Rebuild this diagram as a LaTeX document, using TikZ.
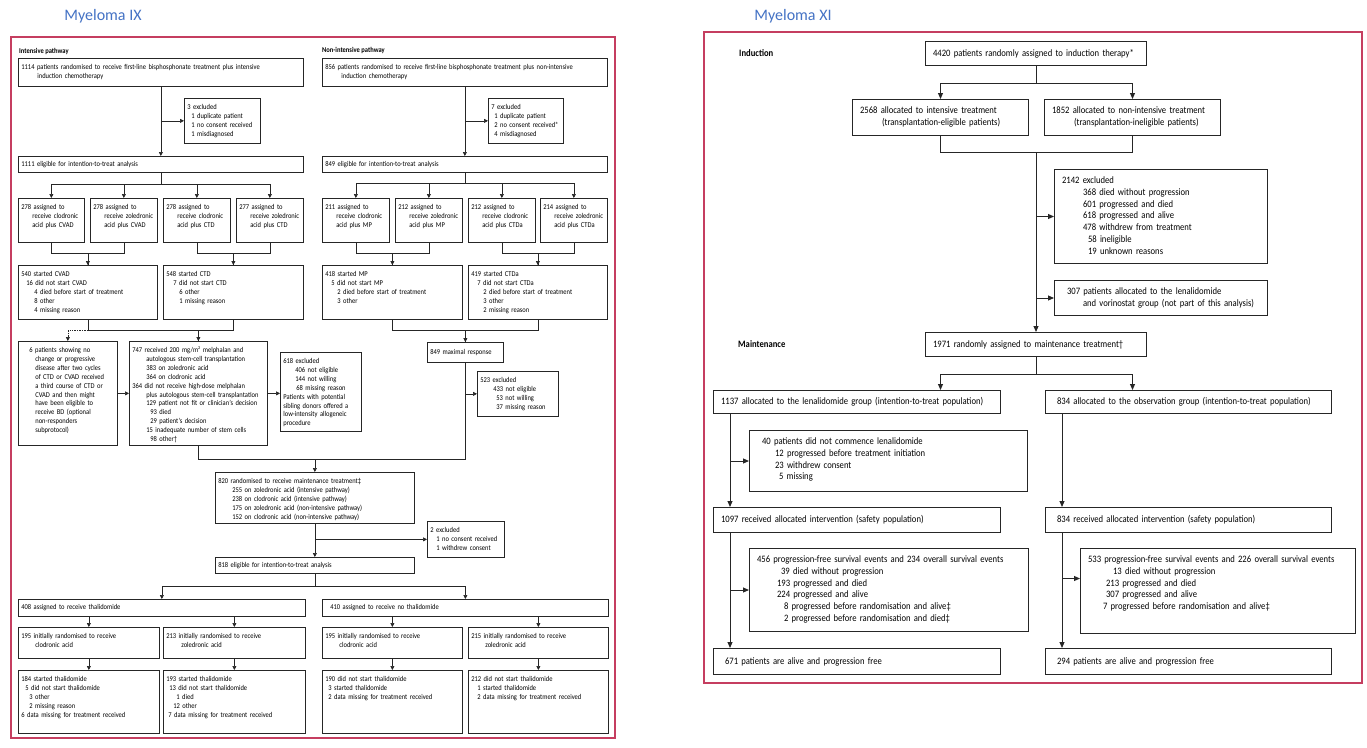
\documentclass[tikz,border=0pt]{standalone}
\usepackage{fontspec}
\setmainfont{Carlito}
\newfontfamily\boxfont[FakeStretch=0.88]{Carlito}
\usetikzlibrary{arrows.meta}
\definecolor{framered}{RGB}{197,62,96}
\definecolor{titleblue}{RGB}{68,114,196}
\newcommand{\shiftin}[1]{\hspace*{#1pt}}
\hyphenpenalty=10000
\exhyphenpenalty=10000

\begin{document}
\begin{tikzpicture}[x=1pt, y=-1pt,
    lbox/.style={rectangle, draw=black!85, line width=0.7pt, anchor=north west, align=left, inner xsep=3pt, inner ysep=3.5pt, font={\boxfont\fontsize{7.4}{8.85}\selectfont}},
    ltall/.style={lbox, text height=8pt},
    lnarrow/.style={ltall, inner xsep=2pt},
    rbox/.style={rectangle, draw=black!85, line width=1pt, anchor=north west, align=left, inner xsep=7.5pt, inner ysep=5pt, font={\boxfont\fontsize{9.8}{11.8}\selectfont}},
    rtall/.style={rbox, text height=9pt},
    arr/.style={draw=black!85, line width=0.7pt, -{Triangle[length=4pt, width=4pt]}},
    line/.style={draw=black!85, line width=0.7pt},
    rarr/.style={draw=black!85, line width=1pt, -{Triangle[length=6pt, width=5pt]}},
    rline/.style={draw=black!85, line width=1pt},
    frame/.style={draw=framered, line width=1.2pt},
    title/.style={text=titleblue, font={\fontsize{16}{19}\selectfont}},
    llab/.style={anchor=west, inner sep=0pt, font={\boxfont\bfseries\fontsize{7.4}{9}\selectfont}},
    rlab/.style={anchor=west, inner sep=0pt, font={\boxfont\bfseries\fontsize{9.8}{12}\selectfont}}]
    \useasboundingbox (0,0) rectangle (1367,747);

    % Titles and frames
    \node [title] (titleix) at (103,16) {Myeloma IX};
    \node [title] (titlexi) at (793,16) {Myeloma XI};
    \draw [frame] (11,37) rectangle (615,738);
    \draw [frame] (704,32) rectangle (1362,683);

    % Myeloma IX: intensive pathway
    \node [llab] (labint) at (19,51) {Intensive pathway};
    \node [ltall, text width=279pt, text depth=13pt] (intrand) at (18,58) {1114 patients randomised to receive first-line bisphosphonate treatment plus intensive\\\shiftin{16}induction chemotherapy};
    \node [lnarrow, text width=72pt, text depth=30pt] (intexcl) at (184,98) {\shiftin{1}3 excluded\\\shiftin{5}1 duplicate patient\\\shiftin{5}1 no consent received\\\shiftin{5}1 misdiagnosed};
    \node [lbox, text width=279pt, minimum height=16pt] (intitt) at (18,156) {1111 eligible for intention-to-treat analysis};
    \node [lnarrow, text width=62pt, text depth=29pt] (intcvadclo) at (18,198) {\shiftin{1}278 assigned to\\\shiftin{12}receive clodronic\\\shiftin{12}acid plus CVAD};
    \node [lnarrow, text width=63pt, text depth=29pt] (intcvadzol) at (90,198) {\shiftin{1}278 assigned to\\\shiftin{12}receive zoledronic\\\shiftin{12}acid plus CVAD};
    \node [lnarrow, text width=63pt, text depth=29pt] (intctdclo) at (163,198) {\shiftin{1}278 assigned to\\\shiftin{12}receive clodronic\\\shiftin{12}acid plus CTD};
    \node [lnarrow, text width=63pt, text depth=29pt] (intctdzol) at (236,198) {\shiftin{1}277 assigned to\\\shiftin{12}receive zoledronic\\\shiftin{12}acid plus CTD};
    \node [ltall, text width=133pt, text depth=39pt] (cvad) at (18,265) {540 started CVAD\\\shiftin{5}16 did not start CVAD\\\shiftin{13}4 died before start of treatment\\\shiftin{13}8 other\\\shiftin{13}4 missing reason};
    \node [ltall, text width=134pt, text depth=39pt] (ctd) at (163,265) {548 started CTD\\\shiftin{7}7 did not start CTD\\\shiftin{13}6 other\\\shiftin{13}1 missing reason};
    \node [ltall, text width=93pt, text depth=89pt] (noresp) at (18,341) {\shiftin{8}6 patients showing no\\\shiftin{14}change or progressive\\\shiftin{14}disease after two cycles\\\shiftin{14}of CTD or CVAD received\\\shiftin{14}a third course of CTD or\\\shiftin{14}CVAD and then might\\\shiftin{14}have been eligible to\\\shiftin{14}receive BD (optional\\\shiftin{14}non-responders\\\shiftin{14}subprotocol)};
    \node [ltall, text width=132pt, text depth=89pt] (asct) at (129,341) {747 received 200 mg/m² melphalan and\\\shiftin{14}autologous stem-cell transplantation\\\shiftin{14}383 on zoledronic acid\\\shiftin{14}364 on clodronic acid\\364 did not receive high-dose melphalan\\\shiftin{14}plus autologous stem-cell transplantation\\\shiftin{14}129 patient not fit or clinician’s decision\\\shiftin{18}93 died\\\shiftin{18}29 patient’s decision\\\shiftin{14}15 inadequate number of stem cells\\\shiftin{18}98 other†};
    \node [ltall, text width=75pt, text depth=64pt] (alloexcl) at (280,352) {618 excluded\\\shiftin{12}406 not eligible\\\shiftin{12}144 not willing\\\shiftin{13}68 missing reason\\Patients with potential\\sibling donors offered a\\low-intensity allogeneic\\procedure};

    % Myeloma IX: non-intensive pathway
    \node [llab] (labnon) at (322,50) {Non-intensive pathway};
    \node [ltall, text width=279pt, text depth=13pt] (nonrand) at (322,58) {856 patients randomised to receive first-line bisphosphonate treatment plus non-intensive\\\shiftin{16}induction chemotherapy};
    \node [lnarrow, text width=71pt, text depth=30pt] (nonexcl) at (488,98) {\shiftin{1}7 excluded\\\shiftin{4}1 duplicate patient\\\shiftin{4}2 no consent received*\\\shiftin{4}4 misdiagnosed};
    \node [lbox, text width=279pt, minimum height=16pt] (nonitt) at (322,156) {849 eligible for intention-to-treat analysis};
    \node [lnarrow, text width=63pt, text depth=29pt] (mpclo) at (322,198) {\shiftin{1}211 assigned to\\\shiftin{12}receive clodronic\\\shiftin{12}acid plus MP};
    \node [lnarrow, text width=63pt, text depth=29pt] (mpzol) at (395,198) {\shiftin{1}212 assigned to\\\shiftin{12}receive zoledronic\\\shiftin{12}acid plus MP};
    \node [lnarrow, text width=63pt, text depth=29pt] (ctdaclo) at (468,198) {\shiftin{1}212 assigned to\\\shiftin{12}receive clodronic\\\shiftin{12}acid plus CTDa};
    \node [lnarrow, text width=63pt, text depth=29pt] (ctdazol) at (540,198) {\shiftin{1}214 assigned to\\\shiftin{12}receive zoledronic\\\shiftin{12}acid plus CTDa};
    \node [ltall, text width=134pt, text depth=39pt] (mp) at (322,265) {418 started MP\\\shiftin{6}5 did not start MP\\\shiftin{12}2 died before start of treatment\\\shiftin{12}3 other};
    \node [ltall, text width=133pt, text depth=39pt] (ctda) at (468,265) {419 started CTDa\\\shiftin{6}7 did not start CTDa\\\shiftin{12}2 died before start of treatment\\\shiftin{12}3 other\\\shiftin{12}2 missing reason};
    \node [lbox, text width=70pt, minimum height=20pt] (maxresp) at (427,342) {849 maximal response};
    \node [ltall, text width=75pt, text depth=30pt] (maxexcl) at (477,371) {523 excluded\\\shiftin{13}433 not eligible\\\shiftin{16}53 not willing\\\shiftin{16}37 missing reason};

    % Myeloma IX: maintenance
    \node [ltall, text width=193pt, text depth=36pt] (maintrand) at (215,472) {820 randomised to receive maintenance treatment‡\\\shiftin{14}255 on zoledronic acid (intensive pathway)\\\shiftin{14}238 on clodronic acid (intensive pathway)\\\shiftin{14}175 on zoledronic acid (non-intensive pathway)\\\shiftin{14}152 on clodronic acid (non-intensive pathway)};
    \node [ltall, text width=71pt, text depth=21pt] (maintexcl) at (427,521) {2 excluded\\\shiftin{6}1 no consent received\\\shiftin{6}1 withdrew consent};
    \node [lbox, text width=193pt, minimum height=16pt] (maintitt) at (215,557) {818 eligible for intention-to-treat analysis};
    \node [lbox, text width=281pt, minimum height=17pt] (thal) at (18,599) {408 assigned to receive thalidomide};
    \node [lbox, text width=280pt, minimum height=17pt] (nothal) at (322,599) {\shiftin{5}410 assigned to receive no thalidomide};
    \node [ltall, text width=135pt, text depth=16pt] (thalclo) at (18,627) {195 initially randomised to receive\\\shiftin{14}clodronic acid};
    \node [ltall, text width=136pt, text depth=16pt] (thalzol) at (163,627) {213 initially randomised to receive\\\shiftin{15}zoledronic acid};
    \node [ltall, text width=134pt, text depth=16pt] (nothalclo) at (322,627) {195 initially randomised to receive\\\shiftin{14}clodronic acid};
    \node [ltall, text width=134pt, text depth=16pt] (nothalzol) at (468,627) {215 initially randomised to receive\\\shiftin{14}zoledronic acid};
    \node [ltall, text width=135pt, text depth=48pt] (thalcloout) at (18,670) {184 started thalidomide\\\shiftin{4}5 did not start thalidomide\\\shiftin{8}3 other\\\shiftin{8}2 missing reason\\6 data missing for treatment received};
    \node [ltall, text width=136pt, text depth=48pt] (thalzolout) at (163,670) {193 started thalidomide\\\shiftin{3}13 did not start thalidomide\\\shiftin{10}1 died\\\shiftin{7}12 other\\\shiftin{2}7 data missing for treatment received};
    \node [ltall, text width=134pt, text depth=48pt] (nothalcloout) at (322,670) {190 did not start thalidomide\\\shiftin{3}3 started thalidomide\\\shiftin{3}2 data missing for treatment received};
    \node [ltall, text width=134pt, text depth=48pt] (nothalzolout) at (468,670) {212 did not start thalidomide\\\shiftin{6}1 started thalidomide\\\shiftin{6}2 data missing for treatment received};

    % Myeloma XI: induction
    \node [rlab] (labind) at (739,53) {Induction};
    \node [rbox, text width=206pt, minimum height=24pt] (induct) at (925,41) {4420 patients randomly assigned to induction therapy*};
    \node [rtall, text width=161pt, text depth=17pt] (intensive) at (852,99) {2568 allocated to intensive treatment\\\shiftin{22}(transplantation-eligible patients)};
    \node [rtall, text width=161pt, text depth=17pt] (nonintensive) at (1044,99) {1852 allocated to non-intensive treatment\\\shiftin{22}(transplantation-ineligible patients)};
    \node [rtall, text width=198pt, text depth=75pt] (indexcl) at (1054,169) {2142 excluded\\\shiftin{21}368 died without progression\\\shiftin{21}601 progressed and died\\\shiftin{21}618 progressed and alive\\\shiftin{21}478 withdrew from treatment\\\shiftin{26}58 ineligible\\\shiftin{26}19 unknown reasons};
    \node [rtall, text width=198pt, text depth=16pt] (vorino) at (1054,280) {\shiftin{5}307 patients allocated to the lenalidomide\\\shiftin{21}and vorinostat group (not part of this analysis)};

    % Myeloma XI: maintenance
    \node [rlab] (labmaint) at (738,344) {Maintenance};
    \node [rbox, text width=206pt, minimum height=24pt] (mainrand) at (925,332) {1971 randomly assigned to maintenance treatment†};
    \node [rbox, text width=272pt, minimum height=23pt] (lenal) at (713,390) {1137 allocated to the lenalidomide group (intention-to-treat population)};
    \node [rbox, text width=271pt, minimum height=23pt] (observ) at (1045,390) {\shiftin{4}834 allocated to the observation group (intention-to-treat population)};
    \node [rtall, text width=263pt, text depth=42pt] (lenalno) at (749,430) {\shiftin{5}40 patients did not commence lenalidomide\\\shiftin{18}12 progressed before treatment initiation\\\shiftin{18}23 withdrew consent\\\shiftin{22}5 missing};
    \node [rbox, text width=272pt, minimum height=25pt] (lenalsafe) at (713,507) {1097 received allocated intervention (safety population)};
    \node [rbox, text width=271pt, minimum height=25pt] (observsafe) at (1045,507) {\shiftin{4}834 received allocated intervention (safety population)};
    \node [rtall, text width=264pt, text depth=64pt] (lenalevents) at (749,548) {456 progression-free survival events and 234 overall survival events\\\shiftin{24}39 died without progression\\\shiftin{20}193 progressed and died\\\shiftin{20}224 progressed and alive\\\shiftin{27}8 progressed before randomisation and alive‡\\\shiftin{27}2 progressed before randomisation and died‡};
    \node [rtall, text width=260pt, text depth=66pt] (observevents) at (1080,548) {533 progression-free survival events and 226 overall survival events\\\shiftin{25}13 died without progression\\\shiftin{18}213 progressed and died\\\shiftin{18}307 progressed and alive\\\shiftin{15}7 progressed before randomisation and alive‡};
    \node [rbox, text width=272pt, minimum height=26pt] (lenalfree) at (713,648) {\shiftin{4}671 patients are alive and progression free};
    \node [rbox, text width=271pt, minimum height=26pt] (observfree) at (1045,648) {\shiftin{4}294 patients are alive and progression free};

    % Trunk points
    \coordinate (lenaltrunk) at ([xshift=17pt]lenal.south west);
    \coordinate (lenalsafetrunk) at ([xshift=17pt]lenalsafe.south west);
    \coordinate (observtrunk) at ([xshift=17pt]observ.south west);
    \coordinate (observsafetrunk) at ([xshift=17pt]observsafe.south west);
    \coordinate (observeventsin) at ([yshift=12.5pt]observevents.west);

    % Arrows: intensive pathway
    \draw [arr] (intrand) -- (intitt);
    \draw [arr] (intrand.south |- intexcl.west) -- (intexcl.west);
    \draw [arr] (intitt.south) -- ++(0,12) -| (intcvadclo.north);
    \draw [arr] (intitt.south) -- ++(0,12) -| (intcvadzol.north);
    \draw [arr] (intitt.south) -- ++(0,12) -| (intctdclo.north);
    \draw [arr] (intitt.south) -- ++(0,12) -| (intctdzol.north);
    \draw [arr] (intcvadclo.south) -- ++(0,11) -| (cvad.north);
    \draw [line] (intcvadzol.south) -- ++(0,11) -| (cvad.north);
    \draw [arr] (intctdclo.south) -- ++(0,11) -| (ctd.north);
    \draw [line] (intctdzol.south) -- ++(0,11) -| (ctd.north);
    \draw [arr] (cvad.south) -- ++(0,11) -| (asct.north);
    \draw [line] (ctd.south) -- ++(0,11) -| (asct.north);
    \draw [arr, densely dotted] (cvad.south) ++(0,11) -| (noresp.north);
    \draw [arr] (noresp) -- (asct);
    \draw [arr] (asct.east) -- (asct.east -| alloexcl.west);
    \draw [line] (asct.south) -- ++(0,14) -| (maxresp.south);
    \draw [arr] (asct.south) ++(0,14) -| (maintrand.north);

    % Arrows: non-intensive pathway
    \draw [arr] (nonrand) -- (nonitt);
    \draw [arr] (nonrand.south |- nonexcl.west) -- (nonexcl.west);
    \draw [arr] (nonitt.south) -- ++(0,11) -| (mpclo.north);
    \draw [arr] (nonitt.south) -- ++(0,11) -| (mpzol.north);
    \draw [arr] (nonitt.south) -- ++(0,11) -| (ctdaclo.north);
    \draw [arr] (nonitt.south) -- ++(0,11) -| (ctdazol.north);
    \draw [arr] (mpclo.south) -- ++(0,11) -| (mp.north);
    \draw [line] (mpzol.south) -- ++(0,11) -| (mp.north);
    \draw [arr] (ctdaclo.south) -- ++(0,11) -| (ctda.north);
    \draw [line] (ctdazol.south) -- ++(0,11) -| (ctda.north);
    \draw [arr] (mp.south) -- ++(0,11) -| (maxresp.north);
    \draw [line] (ctda.south) -- ++(0,11) -| (maxresp.north);
    \draw [arr] (maxresp.south |- maxexcl.west) -- (maxexcl.west);

    % Arrows: maintenance
    \draw [arr] (maintrand) -- (maintitt);
    \draw [arr] (maintrand.south |- maintexcl.west) -- (maintexcl.west);
    \draw [arr] (maintitt.south) -- ++(0,13) -| (thal.north);
    \draw [arr] (maintitt.south) -- ++(0,13) -| (nothal.north);
    \draw [arr] (thal.south -| thalclo.north) -- (thalclo.north);
    \draw [arr] (thal.south -| thalzol.north) -- (thalzol.north);
    \draw [arr] (nothal.south -| nothalclo.north) -- (nothalclo.north);
    \draw [arr] (nothal.south -| nothalzol.north) -- (nothalzol.north);
    \draw [arr] (thalclo) -- (thalcloout);
    \draw [arr] (thalzol) -- (thalzolout);
    \draw [arr] (nothalclo) -- (nothalcloout);
    \draw [arr] (nothalzol) -- (nothalzolout);

    % Arrows: Myeloma XI
    \draw [rarr] (induct.south) -- ++(0,17) -| (intensive.north);
    \draw [rarr] (induct.south) -- ++(0,17) -| (nonintensive.north);
    \draw [rline] (intensive.south) -- ++(0,16) -| (nonintensive.south);
    \draw [rarr] (induct.south |- intensive.south) ++(0,16) -- (mainrand.north);
    \draw [rarr] (mainrand.north |- indexcl.west) -- (indexcl.west);
    \draw [rarr] (mainrand.north |- vorino.west) -- (vorino.west);
    \draw [rarr] (mainrand.south) -- ++(0,17) -| (lenal.north -| intensive.south);
    \draw [rarr] (mainrand.south) -- ++(0,17) -| (observ.north -| nonintensive.south);
    \draw [rarr] (lenaltrunk) -- (lenaltrunk |- lenalsafe.north);
    \draw [rarr] (lenaltrunk |- lenalno.west) -- (lenalno.west);
    \draw [rarr] (lenalsafetrunk) -- (lenalsafetrunk |- lenalfree.north);
    \draw [rarr] (lenalsafetrunk |- lenalevents.west) -- (lenalevents.west);
    \draw [rarr] (observtrunk) -- (observtrunk |- observsafe.north);
    \draw [rarr] (observsafetrunk) -- (observsafetrunk |- observfree.north);
    \draw [rarr] (observsafetrunk |- observeventsin) -- (observeventsin);

\end{tikzpicture}
\end{document}
